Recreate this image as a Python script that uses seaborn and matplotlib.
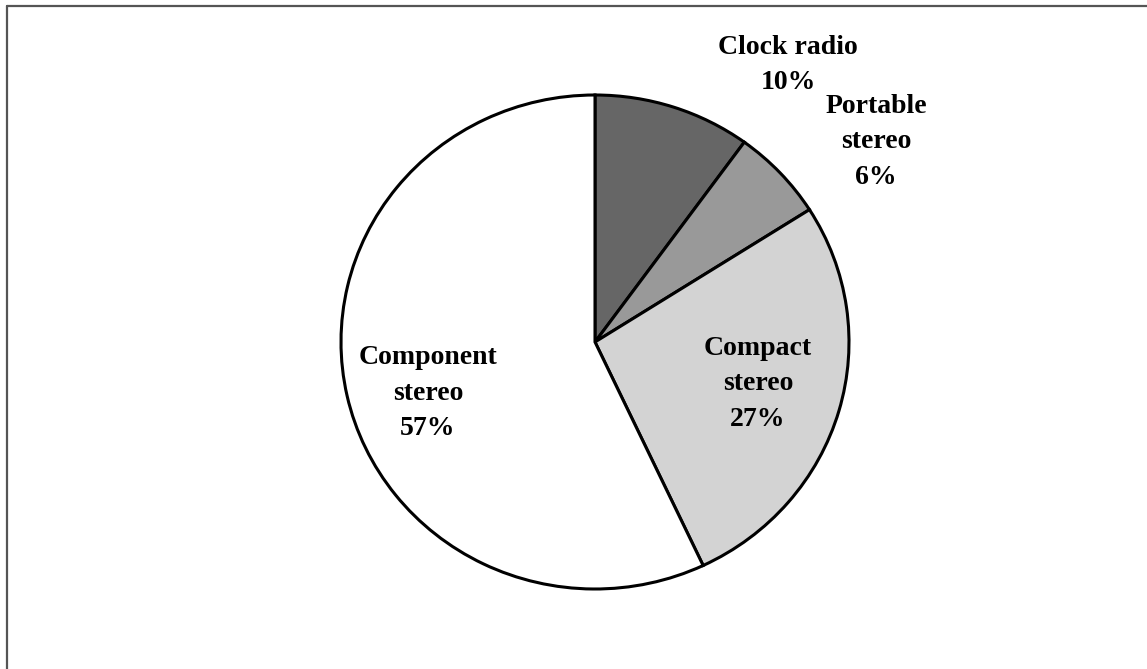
import matplotlib
matplotlib.use("Agg")
import matplotlib.pyplot as plt
import seaborn as sns
from matplotlib.lines import Line2D

categories = ["Clock radio", "Portable\nstereo", "Compact\nstereo", "Component\nstereo"]
shares = [10, 6, 27, 57]
colors = ["#666666", "#999999", "#d3d3d3", "#ffffff"]
# label block centres in pixels (layout only)
label_px = [(788, 65), (876, 142), (758, 384), (428, 393)]

sns.set_theme(style="white")
plt.rcParams["font.family"] = ["Liberation Serif", "DejaVu Serif"]

W, H = 1147, 669
fig = plt.figure(figsize=(W / 100, H / 100), dpi=100)
fig.patch.set_facecolor("white")

cx, cy, rx, ry = 595, 342, 254, 247
ax = fig.add_axes([0, 0, 1, 1])
ax.pie(shares, colors=colors, startangle=90, counterclock=False, radius=1.0,
       center=(0, 0), frame=False,
       wedgeprops=dict(edgecolor="black", linewidth=2.2))
ax.set_aspect("auto")
ax.set_xlim(-cx / rx, (W - cx) / rx)
ax.set_ylim(-(H - cy) / ry, cy / ry)
ax.axis("off")

for cat, val, (px, py) in zip(categories, shares, label_px):
    ax.text((px - cx) / rx, (cy - py) / ry, f"{cat}\n{val}%", ha="center", va="center",
            fontsize=20, fontweight="bold", linespacing=1.55, color="black")

# frame lines (top and left)
fig.add_artist(Line2D([6.5 / W, 1], [1 - 6 / H, 1 - 6 / H], transform=fig.transFigure,
                      color="#555555", linewidth=1.6))
fig.add_artist(Line2D([6.5 / W, 6.5 / W], [0, 1 - 6 / H], transform=fig.transFigure,
                      color="#555555", linewidth=1.6))

fig.savefig("out.png", dpi=100, facecolor="white")
